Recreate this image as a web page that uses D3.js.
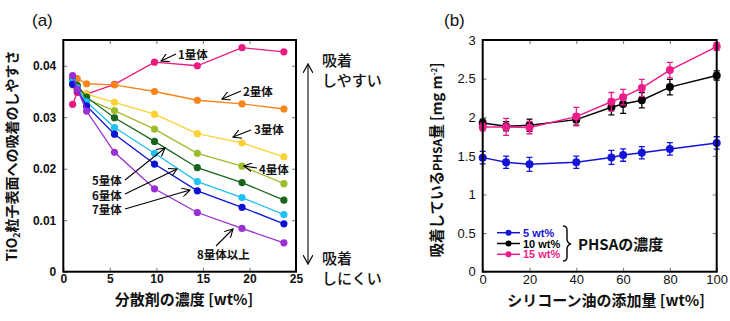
<!DOCTYPE html>
<html>
<head>
<meta charset="utf-8">
<script src="https://cdn.jsdelivr.net/npm/d3@7"></script>
<style>
  body { margin: 0; background: #fff; }
  svg { display: block; font-family: "Liberation Sans", "Noto Sans CJK JP", sans-serif; }
  .jp { font-family: "Noto Sans CJK JP", sans-serif; }
</style>
</head>
<body>
<svg id="chart" width="730" height="321"></svg>
<script>
(function () {
    'use strict';

    // (a) dispersant concentration vs adsorption tendency, by oligomer size
    const conc = [1, 1.5, 2.5, 5.5, 9.8, 14.4, 19.2, 23.7];
    const oligomerNames = ["1量体", "2量体", "3量体", "4量体", "5量体", "6量体", "7量体", "8量体以上"];
    const mono   = [0.0325, 0.0348, 0.0345, 0.0364, 0.0407, 0.0400, 0.0435, 0.0427];
    const dimer  = [0.0374, 0.0375, 0.0365, 0.0363, 0.0350, 0.0333, 0.0326, 0.0316];
    const trimer = [0.0362, 0.0358, 0.0345, 0.0329, 0.0306, 0.0268, 0.0250, 0.0223];
    const tetra  = [0.0368, 0.0360, 0.0335, 0.0313, 0.0277, 0.0230, 0.0205, 0.0171];
    const penta  = [0.0372, 0.0362, 0.0339, 0.0299, 0.0253, 0.0202, 0.0173, 0.0139];
    const hexa   = [0.0370, 0.0357, 0.0330, 0.0280, 0.0230, 0.0175, 0.0144, 0.0111];
    const hepta  = [0.0364, 0.0353, 0.0322, 0.0267, 0.0209, 0.0157, 0.0125, 0.0093];
    const octa   = [0.0381, 0.0354, 0.0312, 0.0232, 0.0161, 0.0115, 0.0084, 0.0056];
    const oligomerColors = ["#ea1a80", "#f8841c", "#fbd233", "#9cbd2c", "#17661b", "#1fc0f2", "#0b12d6", "#9a2fd4"];

    // (b) silicone oil content vs adsorbed PHSA
    const oil = [0, 10, 20, 40, 55, 60, 68, 80, 100];
    const phsaNames = ["5 wt%", "10 wt%", "15 wt%"];
    const phsa5  = [1.477, 1.417, 1.390, 1.417, 1.480, 1.510, 1.540, 1.590, 1.667];
    const phsa10 = [1.926, 1.883, 1.896, 1.969, 2.130, 2.170, 2.220, 2.390, 2.540];
    const phsa15 = [1.874, 1.874, 1.866, 2.008, 2.200, 2.260, 2.380, 2.610, 2.915];
    const err5  = [0.08, 0.08, 0.09, 0.08, 0.09, 0.08, 0.08, 0.08, 0.08];
    const err10 = [0.05, 0.06, 0.08, 0.07, 0.10, 0.12, 0.10, 0.10, 0.06];
    const err15 = [0.05, 0.11, 0.08, 0.12, 0.12, 0.10, 0.11, 0.10, 0.05];
    const phsaColors = ["#1414d8", "#000000", "#ee1b8a"];

    const svg = d3.select("#chart");

    // ---------- panel (a) ----------
    const xa = d3.scaleLinear().domain([0, 25]).range([63.3, 296]);
    const ya = d3.scaleLinear().domain([0, 0.045]).range([271.7, 40]);
    const ga = svg.append("g");

    const fmtA = d => d === 0 ? "0" : d.toFixed(2);
    ga.append("g").attr("transform", `translate(${xa(0)},0)`)
        .call(d3.axisLeft(ya).tickValues([0, 0.01, 0.02, 0.03, 0.04]).tickSize(-4).tickPadding(7).tickFormat(fmtA));
    ga.append("g").attr("transform", `translate(${xa(25)},0)`)
        .call(d3.axisRight(ya).tickValues([0.01, 0.02, 0.03, 0.04]).tickSize(-4).tickFormat(""));
    ga.append("g").attr("transform", `translate(0,${ya(0)})`)
        .call(d3.axisBottom(xa).tickValues([0, 5, 10, 15, 20, 25]).tickSize(-4).tickPadding(3));
    ga.append("g").attr("transform", `translate(0,${ya(0.045)})`)
        .call(d3.axisTop(xa).tickValues([5, 10, 15, 20]).tickSize(-4).tickFormat(""));
    ga.selectAll(".domain").remove();
    ga.selectAll(".tick line").attr("stroke", "#777");
    ga.selectAll(".tick text").attr("font-size", 12).attr("font-weight", "bold").attr("fill", "#111");

    const seriesA = [mono, dimer, trimer, tetra, penta, hexa, hepta, octa];
    const lineA = d3.line().x((d, i) => xa(conc[i])).y(d => ya(d));
    const sa = ga.selectAll(".olig").data(seriesA).join("g").attr("class", "olig");
    sa.append("path")
        .attr("d", d => lineA(d))
        .attr("fill", "none")
        .attr("stroke", (d, i) => oligomerColors[i])
        .attr("stroke-width", 1.3);
    sa.selectAll("circle").data((d, i) => d.map(v => ({v, c: oligomerColors[i]})))
        .join("circle")
        .attr("cx", (d, i) => xa(conc[i]))
        .attr("cy", d => ya(d.v))
        .attr("r", 3.6)
        .attr("fill", d => d.c);

    ga.append("rect")
        .attr("x", xa(0)).attr("y", ya(0.045))
        .attr("width", xa(25) - xa(0)).attr("height", ya(0) - ya(0.045))
        .attr("fill", "none").attr("stroke", "#000").attr("stroke-width", 2);

    // annotation arrows for each oligomer
    const defs = svg.append("defs");
    defs.append("marker").attr("id", "open").attr("viewBox", "0 0 10 10")
        .attr("refX", 9).attr("refY", 5).attr("markerWidth", 9).attr("markerHeight", 9)
        .attr("orient", "auto").attr("markerUnits", "userSpaceOnUse")
        .append("path").attr("d", "M0,0 L9,5 L0,10").attr("fill", "none").attr("stroke", "#000").attr("stroke-width", 1.2);

    const notes = [
        {t: oligomerNames[0], tx: 178, ty: 59, x1: 176, y1: 54, x2: 161, y2: 61},
        {t: oligomerNames[1], tx: 243, ty: 96, x1: 241, y1: 91, x2: 222, y2: 99},
        {t: oligomerNames[2], tx: 254, ty: 134, x1: 251, y1: 130, x2: 233, y2: 137},
        {t: oligomerNames[3], tx: 259, ty: 174, x1: 257, y1: 168, x2: 244, y2: 166},
        {t: oligomerNames[4], tx: 92, ty: 185, x1: 125, y1: 180, x2: 165, y2: 148},
        {t: oligomerNames[5], tx: 92, ty: 199.5, x1: 125, y1: 194, x2: 177, y2: 169},
        {t: oligomerNames[6], tx: 92, ty: 214, x1: 125, y1: 209, x2: 190, y2: 190},
        {t: oligomerNames[7], tx: 197, ty: 259, x1: 216, y1: 246, x2: 233, y2: 229}
    ];
    const na = ga.selectAll(".note").data(notes).join("g").attr("class", "note");
    na.append("line")
        .attr("x1", d => d.x1).attr("y1", d => d.y1).attr("x2", d => d.x2).attr("y2", d => d.y2)
        .attr("stroke", "#000").attr("stroke-width", 1.1).attr("marker-end", "url(#open)");
    na.append("text").attr("class", "jp")
        .attr("x", d => d.tx).attr("y", d => d.ty)
        .attr("font-size", 11.5).attr("font-weight", "bold").attr("fill", "#111")
        .text(d => d.t);

    // adsorption direction arrow
    defs.append("marker").attr("id", "open2").attr("viewBox", "0 0 10 10")
        .attr("refX", 9).attr("refY", 5).attr("markerWidth", 10).attr("markerHeight", 10)
        .attr("orient", "auto-start-reverse").attr("markerUnits", "userSpaceOnUse")
        .append("path").attr("d", "M0,0 L9,5 L0,10").attr("fill", "none").attr("stroke", "#111").attr("stroke-width", 1.3);
    ga.append("line").attr("x1", 308).attr("y1", 64).attr("x2", 308).attr("y2", 264)
        .attr("stroke", "#555").attr("stroke-width", 1.6)
        .attr("marker-start", "url(#open2)").attr("marker-end", "url(#open2)");
    [["吸着", 66], ["しやすい", 86], ["吸着", 264], ["しにくい", 284]].forEach(([t, y]) => {
        ga.append("text").attr("class", "jp").attr("x", 322).attr("y", y)
            .attr("font-size", 15).attr("font-weight", 500).attr("fill", "#111").text(t);
    });

    ga.append("text").attr("x", 32).attr("y", 26).attr("font-size", 17).attr("fill", "#111").text("(a)");
    ga.append("text").attr("class", "jp").attr("x", 184).attr("y", 305)
        .attr("text-anchor", "middle").attr("font-size", 15).attr("font-weight", "bold").attr("fill", "#111")
        .text("分散剤の濃度 [wt%]");
    const yla = ga.append("text").attr("class", "jp")
        .attr("transform", "translate(17,156) rotate(-90)")
        .attr("text-anchor", "middle").attr("font-size", 14).attr("font-weight", "bold").attr("fill", "#111");
    yla.append("tspan").text("TiO");
    yla.append("tspan").attr("font-size", 9).attr("dy", 3).text("2");
    yla.append("tspan").attr("dy", -3).text("粒子表面への吸着のしやすさ");

    // ---------- panel (b) ----------
    const xb = d3.scaleLinear().domain([0, 100]).range([482.7, 716.7]);
    const yb = d3.scaleLinear().domain([0, 3]).range([271.7, 40]);
    const gb = svg.append("g");

    gb.append("g").attr("transform", `translate(${xb(0)},0)`)
        .call(d3.axisLeft(yb).tickValues(d3.range(0, 3.01, 0.5)).tickSize(-4).tickPadding(7).tickFormat(d3.format("~g")));
    gb.append("g").attr("transform", `translate(${xb(100)},0)`)
        .call(d3.axisRight(yb).tickValues(d3.range(0.5, 3, 0.5)).tickSize(-4).tickFormat(""));
    gb.append("g").attr("transform", `translate(0,${yb(0)})`)
        .call(d3.axisBottom(xb).tickValues(d3.range(0, 101, 20)).tickSize(-4).tickPadding(3));
    gb.append("g").attr("transform", `translate(0,${yb(3)})`)
        .call(d3.axisTop(xb).tickValues(d3.range(20, 100, 20)).tickSize(-4).tickFormat(""));
    gb.selectAll(".domain").remove();
    gb.selectAll(".tick line").attr("stroke", "#777");
    gb.selectAll(".tick text").attr("font-size", 13).attr("fill", "#111");

    const seriesB = [
        {v: phsa5, e: err5, c: phsaColors[0]},
        {v: phsa10, e: err10, c: phsaColors[1]},
        {v: phsa15, e: err15, c: phsaColors[2]}
    ];
    const lineB = d3.line().x((d, i) => xb(oil[i])).y(d => yb(d));
    const sb = gb.selectAll(".phsa").data(seriesB).join("g").attr("class", "phsa");
    sb.append("path")
        .attr("d", d => lineB(d.v))
        .attr("fill", "none").attr("stroke", d => d.c).attr("stroke-width", 1.5);
    sb.each(function (s) {
        const g = d3.select(this);
        const pts = s.v.map((v, i) => ({x: oil[i], v, e: s.e[i]}));
        g.selectAll(".err").data(pts).join("path").attr("class", "err")
            .attr("d", d => {
                const x = xb(d.x), y0 = yb(d.v - d.e), y1 = yb(d.v + d.e);
                return `M${x},${y0}V${y1}M${x - 3},${y0}H${x + 3}M${x - 3},${y1}H${x + 3}`;
            })
            .attr("fill", "none").attr("stroke", s.c).attr("stroke-width", 1.3);
        g.selectAll("circle").data(pts).join("circle")
            .attr("cx", d => xb(d.x)).attr("cy", d => yb(d.v)).attr("r", 4)
            .attr("fill", s.c);
    });

    gb.append("rect")
        .attr("x", xb(0)).attr("y", yb(3))
        .attr("width", xb(100) - xb(0)).attr("height", yb(0) - yb(3))
        .attr("fill", "none").attr("stroke", "#000").attr("stroke-width", 2);

    // legend
    const lg = gb.append("g");
    phsaNames.forEach((name, i) => {
        const y = 232.7 + i * 10.8;
        lg.append("line").attr("x1", 497).attr("x2", 520).attr("y1", y).attr("y2", y)
            .attr("stroke", phsaColors[i]).attr("stroke-width", 1.5);
        lg.append("circle").attr("cx", 508.5).attr("cy", y).attr("r", 3).attr("fill", phsaColors[i]);
        lg.append("text").attr("x", 523).attr("y", y + 4).attr("font-size", 11).attr("font-weight", "bold")
            .attr("fill", phsaColors[i]).text(name);
    });
    lg.append("path")
        .attr("d", "M563,226 Q567,226 567,230 L567,239 Q567,243 571,244 Q567,245 567,249 L567,257 Q567,261 563,261")
        .attr("fill", "none").attr("stroke", "#111").attr("stroke-width", 1.5);
    lg.append("text").attr("class", "jp").attr("x", 578).attr("y", 250)
        .attr("font-size", 15).attr("font-weight", "bold").attr("fill", "#111").text("PHSAの濃度");

    gb.append("text").attr("x", 444).attr("y", 26).attr("font-size", 17).attr("fill", "#111").text("(b)");
    gb.append("text").attr("class", "jp").attr("x", 606).attr("y", 306)
        .attr("text-anchor", "middle").attr("font-size", 15).attr("font-weight", "bold").attr("fill", "#111")
        .text("シリコーン油の添加量 [wt%]");
    const ylb = gb.append("text").attr("class", "jp")
        .attr("transform", "translate(442,160) rotate(-90)")
        .attr("text-anchor", "middle").attr("font-size", 14.5).attr("font-weight", "bold").attr("fill", "#111");
    ylb.append("tspan").text("吸着している");
    ylb.append("tspan").attr("font-size", 12).text("PHSA");
    ylb.append("tspan").text("量 [mg m");
    ylb.append("tspan").attr("font-size", 8).attr("dy", -5).text("-2");
    ylb.append("tspan").attr("dy", 5).text("]");
}());
</script>
</body>
</html>
